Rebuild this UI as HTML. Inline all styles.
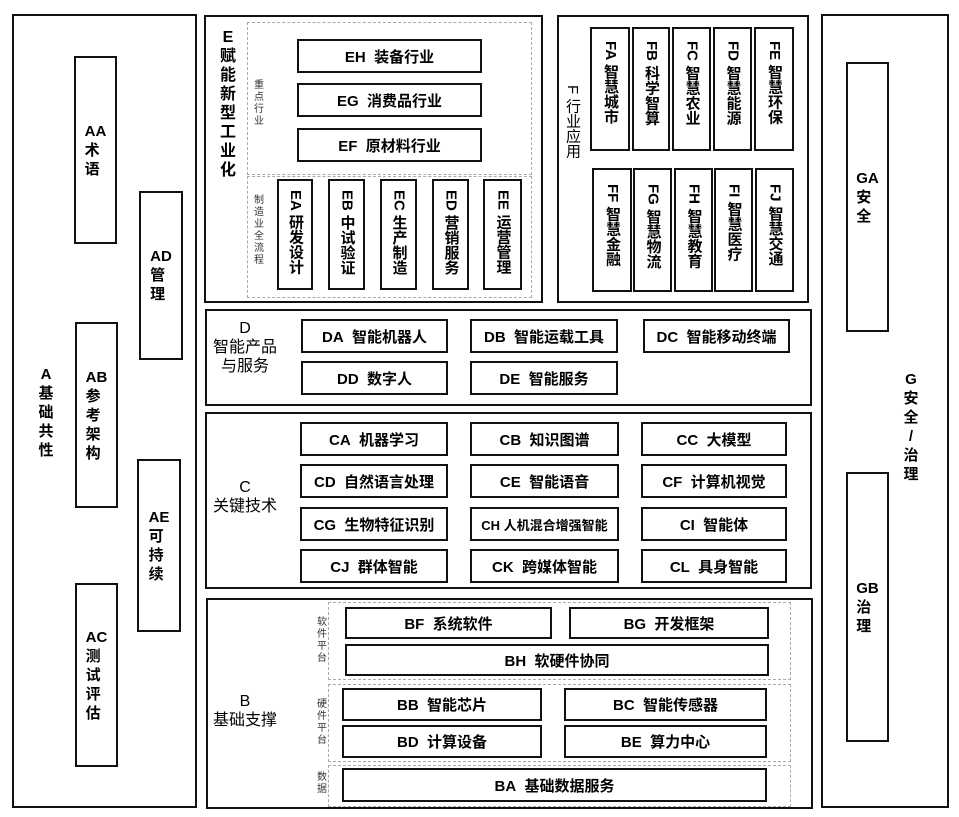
<!DOCTYPE html>
<html><head><meta charset="utf-8"><style>
body{margin:0;width:959px;height:817px;background:#fff;position:relative;overflow:hidden;font-family:"Liberation Sans","Noto Sans CJK SC",sans-serif;color:#000}
.b{position:absolute;border:2px solid #111;box-sizing:border-box;display:flex;align-items:center;justify-content:center;font-size:15px;font-weight:bold;background:#fff;white-space:nowrap}
.o{position:absolute;border:2px solid #111;box-sizing:border-box}
.d{position:absolute;border:1px dashed #aaa;box-sizing:border-box}
.v{writing-mode:vertical-rl;text-orientation:mixed;letter-spacing:0;justify-content:flex-start;padding-top:9px;font-size:15px;line-height:18px}
.s{position:absolute;font-size:10px;color:#333;width:12px;line-height:12px;text-align:center}
.l{position:absolute;text-align:center;font-weight:bold;font-size:15px;line-height:19px;white-space:nowrap}
.c{flex-direction:column;line-height:19px;font-size:15px}
</style></head><body>
<!-- A -->
<div class="o" style="left:12px;top:14px;width:185px;height:794px"></div>
<div class="l" style="left:36px;top:365px;width:20px">A<br>基<br>础<br>共<br>性</div>
<div class="b c" style="left:74px;top:56px;width:43px;height:188px">AA<br>术<br>语</div>
<div class="b c" style="left:139px;top:191px;width:44px;height:169px">AD<br>管<br>理</div>
<div class="b c" style="left:75px;top:322px;width:43px;height:186px">AB<br>参<br>考<br>架<br>构</div>
<div class="b c" style="left:137px;top:459px;width:44px;height:173px">AE<br>可<br>持<br>续</div>
<div class="b c" style="left:75px;top:583px;width:43px;height:184px">AC<br>测<br>试<br>评<br>估</div>
<!-- G -->
<div class="o" style="left:821px;top:14px;width:128px;height:794px"></div>
<div class="b c" style="left:846px;top:62px;width:43px;height:270px">GA<br>安<br>全</div>
<div class="b c" style="left:846px;top:472px;width:43px;height:270px">GB<br>治<br>理</div>
<div class="l" style="left:900px;top:370px;width:22px">G<br>安<br>全<br>/<br>治<br>理</div>
<!-- E -->
<div class="o" style="left:204px;top:15px;width:339px;height:288px"></div>
<div class="d" style="left:247px;top:22px;width:285px;height:153px"></div>
<div class="d" style="left:247px;top:176px;width:285px;height:122px"></div>
<div class="l" style="left:218px;top:28px;width:20px;font-size:16px">E<br>赋<br>能<br>新<br>型<br>工<br>业<br>化</div>
<div class="s" style="left:253px;top:80px">重点行业</div>
<div class="s" style="left:253px;top:195px">制造业全流程</div>
<div class="b" style="left:297px;top:39px;width:185px;height:34px">EH&nbsp; 装备行业</div>
<div class="b" style="left:297px;top:83px;width:185px;height:34px">EG&nbsp; 消费品行业</div>
<div class="b" style="left:297px;top:128px;width:185px;height:34px">EF&nbsp; 原材料行业</div>
<div class="b v" style="left:277px;top:179px;width:36px;height:111px">EA 研发设计</div>
<div class="b v" style="left:328px;top:179px;width:37px;height:111px">EB 中试验证</div>
<div class="b v" style="left:380px;top:179px;width:37px;height:111px">EC 生产制造</div>
<div class="b v" style="left:432px;top:179px;width:37px;height:111px">ED 营销服务</div>
<div class="b v" style="left:483px;top:179px;width:39px;height:111px">EE 运营管理</div>
<!-- F -->
<div class="o" style="left:557px;top:15px;width:252px;height:288px"></div>
<div class="l" style="left:562px;top:85px;width:20px;writing-mode:vertical-rl;text-orientation:mixed;font-weight:normal;font-size:15px">F 行业应用</div>
<div class="b v" style="left:590px;top:27px;width:40px;height:124px;padding-top:12px">FA 智慧城市</div>
<div class="b v" style="left:632px;top:27px;width:38px;height:124px;padding-top:12px">FB 科学智算</div>
<div class="b v" style="left:672px;top:27px;width:39px;height:124px;padding-top:12px">FC 智慧农业</div>
<div class="b v" style="left:713px;top:27px;width:39px;height:124px;padding-top:12px">FD 智慧能源</div>
<div class="b v" style="left:754px;top:27px;width:40px;height:124px;padding-top:12px">FE 智慧环保</div>
<div class="b v" style="left:592px;top:168px;width:40px;height:124px;padding-top:14px">FF 智慧金融</div>
<div class="b v" style="left:633px;top:168px;width:39px;height:124px;padding-top:14px">FG 智慧物流</div>
<div class="b v" style="left:674px;top:168px;width:39px;height:124px;padding-top:14px">FH 智慧教育</div>
<div class="b v" style="left:714px;top:168px;width:39px;height:124px;padding-top:14px">FI 智慧医疗</div>
<div class="b v" style="left:755px;top:168px;width:39px;height:124px;padding-top:14px">FJ 智慧交通</div>
<!-- D -->
<div class="o" style="left:205px;top:309px;width:607px;height:97px"></div>
<div class="l" style="left:210px;top:319px;width:70px;font-size:16px;font-weight:normal">D<br>智能产品<br>与服务</div>
<div class="b" style="left:301px;top:319px;width:147px;height:34px">DA&nbsp; 智能机器人</div>
<div class="b" style="left:470px;top:319px;width:148px;height:34px">DB&nbsp; 智能运载工具</div>
<div class="b" style="left:643px;top:319px;width:147px;height:34px">DC&nbsp; 智能移动终端</div>
<div class="b" style="left:301px;top:361px;width:147px;height:34px">DD&nbsp; 数字人</div>
<div class="b" style="left:470px;top:361px;width:148px;height:34px">DE&nbsp; 智能服务</div>
<!-- C -->
<div class="o" style="left:205px;top:412px;width:607px;height:177px"></div>
<div class="l" style="left:210px;top:478px;width:70px;font-size:16px;font-weight:normal">C<br>关键技术</div>
<div class="b" style="left:300px;top:422px;width:148px;height:34px">CA&nbsp; 机器学习</div>
<div class="b" style="left:470px;top:422px;width:149px;height:34px">CB&nbsp; 知识图谱</div>
<div class="b" style="left:641px;top:422px;width:146px;height:34px">CC&nbsp; 大模型</div>
<div class="b" style="left:300px;top:464px;width:148px;height:34px">CD&nbsp; 自然语言处理</div>
<div class="b" style="left:470px;top:464px;width:149px;height:34px">CE&nbsp; 智能语音</div>
<div class="b" style="left:641px;top:464px;width:146px;height:34px">CF&nbsp; 计算机视觉</div>
<div class="b" style="left:300px;top:507px;width:148px;height:34px">CG&nbsp; 生物特征识别</div>
<div class="b" style="left:470px;top:507px;width:149px;height:34px;font-size:13px">CH 人机混合增强智能</div>
<div class="b" style="left:641px;top:507px;width:146px;height:34px">CI&nbsp; 智能体</div>
<div class="b" style="left:300px;top:549px;width:148px;height:34px">CJ&nbsp; 群体智能</div>
<div class="b" style="left:470px;top:549px;width:149px;height:34px">CK&nbsp; 跨媒体智能</div>
<div class="b" style="left:641px;top:549px;width:146px;height:34px">CL&nbsp; 具身智能</div>
<!-- B -->
<div class="o" style="left:206px;top:598px;width:607px;height:211px"></div>
<div class="l" style="left:210px;top:692px;width:70px;font-size:16px;font-weight:normal">B<br>基础支撑</div>
<div class="d" style="left:328px;top:602px;width:463px;height:78px"></div>
<div class="d" style="left:328px;top:684px;width:463px;height:78px"></div>
<div class="d" style="left:328px;top:765px;width:463px;height:42px"></div>
<div class="s" style="left:316px;top:617px">软件平台</div>
<div class="s" style="left:316px;top:699px">硬件平台</div>
<div class="s" style="left:316px;top:772px">数据</div>
<div class="b" style="left:345px;top:607px;width:207px;height:32px">BF&nbsp; 系统软件</div>
<div class="b" style="left:569px;top:607px;width:200px;height:32px">BG&nbsp; 开发框架</div>
<div class="b" style="left:345px;top:644px;width:424px;height:32px">BH&nbsp; 软硬件协同</div>
<div class="b" style="left:342px;top:688px;width:200px;height:33px">BB&nbsp; 智能芯片</div>
<div class="b" style="left:564px;top:688px;width:203px;height:33px">BC&nbsp; 智能传感器</div>
<div class="b" style="left:342px;top:725px;width:200px;height:33px">BD&nbsp; 计算设备</div>
<div class="b" style="left:564px;top:725px;width:203px;height:33px">BE&nbsp; 算力中心</div>
<div class="b" style="left:342px;top:768px;width:425px;height:34px">BA&nbsp; 基础数据服务</div>
</body></html>
